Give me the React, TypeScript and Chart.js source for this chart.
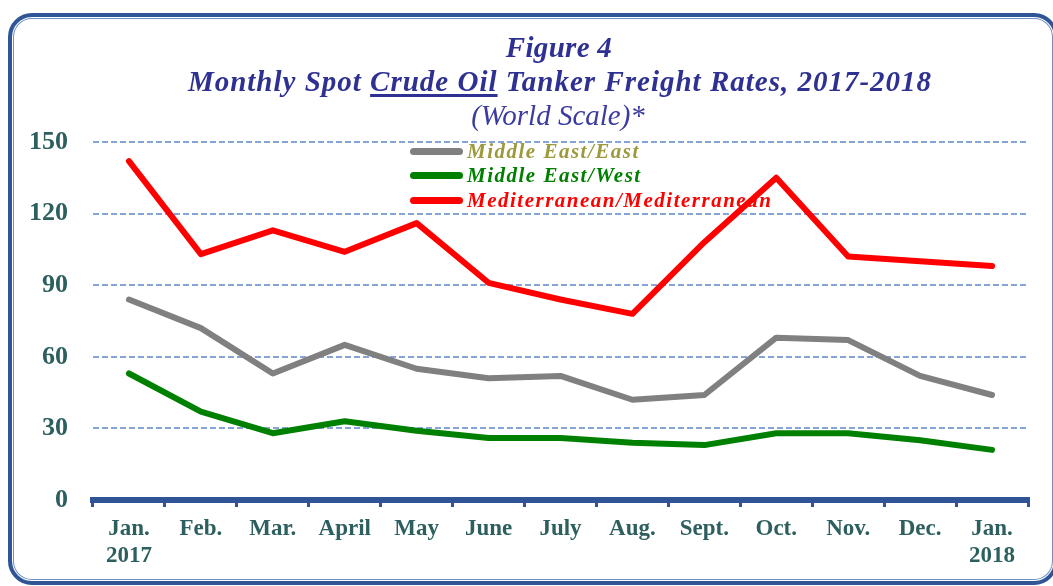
import React, { useEffect, useRef } from "react";
import { Chart, registerables } from "chart.js";

Chart.register(...registerables);

const categories: (string | string[])[] = [
  ["Jan.", "2017"], "Feb.", "Mar.", "April", "May", "June", "July",
  "Aug.", "Sept.", "Oct.", "Nov.", "Dec.", ["Jan.", "2018"],
];
const middleEastEast = [84, 72, 53, 65, 55, 51, 52, 42, 44, 68, 67, 52, 44];
const middleEastWest = [53, 37, 28, 33, 29, 26, 26, 24, 23, 28, 28, 25, 21];
const medMed = [142, 103, 113, 104, 116, 91, 84, 78, 108, 135, 102, 100, 98];
const yTicks = [0, 30, 60, 90, 120, 150];

const seriesNames = ["Middle East/East", "Middle East/West", "Mediterranean/Mediterranean"];
const lineColors = ["#808080", "#008000", "#ff0000"];
const legendTextColors = ["#9c9a3c", "#008000", "#ff0000"];

const W = 1053;
const H = 586;
const serif = "'Liberation Serif', 'Times New Roman', serif";
const tickColor = "#2d5f5f";
const titleColor = "#2e3192";

export default function App() {
  const canvasRef = useRef<HTMLCanvasElement | null>(null);

  useEffect(() => {
    const canvas = canvasRef.current;
    if (!canvas) return;
    const chart = new Chart(canvas, {
      type: "line",
      data: {
        labels: categories,
        datasets: [middleEastEast, middleEastWest, medMed].map((d, i) => ({
          label: seriesNames[i],
          data: d,
          borderColor: lineColors[i],
          backgroundColor: lineColors[i],
          borderWidth: 6,
          pointRadius: 0,
          pointHoverRadius: 0,
          tension: 0,
          borderCapStyle: "round" as const,
          borderJoinStyle: "round" as const,
          fill: false,
        })),
      },
      options: {
        responsive: false,
        animation: false,
        events: [],
        layout: { padding: { left: 0, top: 142, right: 25, bottom: 0 } },
        plugins: {
          legend: { display: false },
          title: { display: false },
          tooltip: { enabled: false },
        },
        scales: {
          x: {
            type: "category",
            offset: true,
            grid: {
              offset: true,
              display: true,
              drawOnChartArea: false,
              drawTicks: true,
              tickLength: 7,
              color: "#2f5597",
              lineWidth: 3,
            },
            border: { display: true, color: "#2f5597", width: 6 },
            ticks: {
              color: tickColor,
              font: { family: serif, size: 23, weight: "bold", lineHeight: 1.15 },
              padding: 9,
              maxRotation: 0,
              minRotation: 0,
              autoSkip: false,
            },
            afterFit: (s: any) => {
              s.height = 86;
            },
          },
          y: {
            type: "linear",
            min: 0,
            max: 150,
            afterBuildTicks: (s: any) => {
              s.ticks = yTicks.map((v) => ({ value: v }));
            },
            grid: {
              color: (ctx: any) => (ctx.tick && ctx.tick.value === 0 ? "rgba(0,0,0,0)" : "#86a3da"),
              lineWidth: 2,
              drawTicks: false,
              tickLength: 0,
            },
            border: { display: false, dash: [6, 3] },
            ticks: {
              color: tickColor,
              font: { family: serif, size: 26, weight: "bold" },
              padding: 25,
            },
            afterFit: (s: any) => {
              s.width = 93;
            },
          },
        },
      },
    });
    return () => chart.destroy();
  }, []);

  const legendRows = [151, 175, 200];

  return (
    <div
      style={{
        position: "fixed",
        left: 0,
        top: 0,
        width: W,
        height: H,
        overflow: "hidden",
        background: "#ffffff",
      }}
    >
      <canvas
        ref={canvasRef}
        width={W}
        height={H}
        style={{ position: "absolute", left: 0, top: 0, width: W, height: H }}
      />
      <div
        style={{
          position: "absolute",
          left: 8,
          top: 13,
          width: 1050,
          height: 572,
          boxSizing: "border-box",
          border: "4px solid #2f5597",
          borderRadius: 24,
          boxShadow: "inset 0 0 0 1px #ffffff, inset 0 0 0 2px #6f8fcb",
          pointerEvents: "none",
        }}
      />
      <div
        style={{
          position: "absolute",
          left: 559,
          top: 33,
          transform: "translateX(-50%)",
          whiteSpace: "nowrap",
          fontFamily: serif,
          fontStyle: "italic",
          fontWeight: "bold",
          fontSize: 29,
          lineHeight: "29px",
          letterSpacing: 0.3,
          color: titleColor,
        }}
      >
        Figure 4
      </div>
      <div
        style={{
          position: "absolute",
          left: 560,
          top: 67,
          transform: "translateX(-50%)",
          whiteSpace: "nowrap",
          fontFamily: serif,
          fontStyle: "italic",
          fontWeight: "bold",
          fontSize: 29,
          lineHeight: "29px",
          letterSpacing: 1,
          color: titleColor,
        }}
      >
        Monthly Spot{" "}
        <span style={{ textDecoration: "underline", textDecorationThickness: 3, textUnderlineOffset: 3 }}>
          Crude Oil
        </span>{" "}
        Tanker Freight Rates, 2017-2018
      </div>
      <div
        style={{
          position: "absolute",
          left: 558,
          top: 101,
          transform: "translateX(-50%)",
          whiteSpace: "nowrap",
          fontFamily: serif,
          fontStyle: "italic",
          fontSize: 29,
          lineHeight: "29px",
          color: "#3b3ba0",
        }}
      >
        (World Scale)*
      </div>
      {seriesNames.map((name, i) => (
        <div
          key={name}
          style={{
            position: "absolute",
            left: 410,
            top: legendRows[i] - 12,
            height: 24,
            display: "flex",
            alignItems: "center",
            whiteSpace: "nowrap",
          }}
        >
          <div
            style={{
              width: 53,
              height: 7,
              borderRadius: 4,
              background: lineColors[i],
              marginRight: 4,
            }}
          />
          <span
            style={{
              fontFamily: serif,
              fontStyle: "italic",
              fontWeight: "bold",
              fontSize: 21,
              letterSpacing: 1.5,
              color: legendTextColors[i],
            }}
          >
            {name}
          </span>
        </div>
      ))}
    </div>
  );
}
